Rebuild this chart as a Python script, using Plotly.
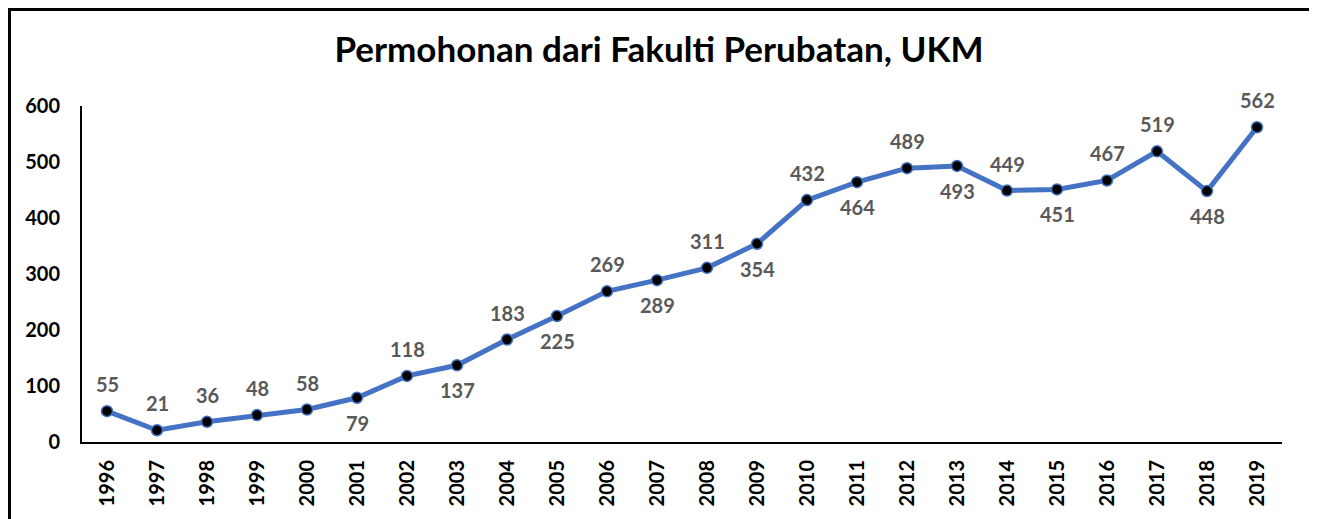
import plotly.graph_objects as go

years = [str(y) for y in range(1996, 2020)]
values = [55, 21, 36, 48, 58, 79, 118, 137, 183, 225, 269, 289, 311, 354,
          432, 464, 489, 493, 449, 451, 467, 519, 448, 562]
label_pos = ["top", "top", "top", "top", "top", "bottom", "top", "bottom",
             "top", "bottom", "top", "bottom", "top", "bottom", "top", "bottom",
             "top", "bottom", "top", "bottom", "top", "top", "bottom", "top"]

FONT = "Lato, 'Open Sans', sans-serif"

fig = go.Figure()
fig.add_trace(go.Scatter(
    x=years, y=values, mode="lines+markers",
    line=dict(color="#4472C4", width=5),
    marker=dict(color="black", size=11, line=dict(color="#4472C4", width=1.5)),
    showlegend=False, hoverinfo="x+y",
))

# category index positions for the labels
for i, (v, p) in enumerate(zip(values, label_pos)):
    fig.add_annotation(x=i, y=v, xref="x", yref="y", text=f"<b>{v}</b>",
                       showarrow=False, xanchor="center", yanchor="middle",
                       yshift=27 if p == "top" else -25,
                       font=dict(family=FONT, size=20, color="#595959"))

# page body has an 8px margin; figure coordinates are offset by it
W, H = 1309, 511
L, R, T, B = 74, 35, 98, 77
pw, ph = W - L - R, H - T - B

fig.update_layout(
    width=W, height=H,
    margin=dict(l=L, r=R, t=T, b=B),
    paper_bgcolor="white", plot_bgcolor="white",
    title=dict(text="<b>Permohonan dari Fakulti Perubatan, UKM</b>",
               x=651 / W, xanchor="center", y=1 - 42 / H, yanchor="middle",
               font=dict(family=FONT, size=35, color="black")),
    xaxis=dict(type="category", range=[-0.5, 23.5], showline=True,
               linecolor="black", linewidth=2, showgrid=False, ticks="",
               tickangle=-90, ticklabelstandoff=8,
               tickfont=dict(family=FONT, size=20, color="black", weight="bold")),
    yaxis=dict(range=[0, 600], dtick=100, showline=True, linecolor="black",
               linewidth=2, showgrid=False, zeroline=False, ticks="",
               ticklabelstandoff=16,
               tickfont=dict(family=FONT, size=20, color="black", weight="bold")),
)

fig.add_shape(type="rect", xref="paper", yref="paper",
              x0=(1.5 - L) / pw, x1=(1303 - L) / pw,
              y0=(H - B - 530) / ph, y1=(H - B - 1.5) / ph,
              line=dict(color="black", width=3), fillcolor="rgba(0,0,0,0)")

fig.write_html("out.html")
